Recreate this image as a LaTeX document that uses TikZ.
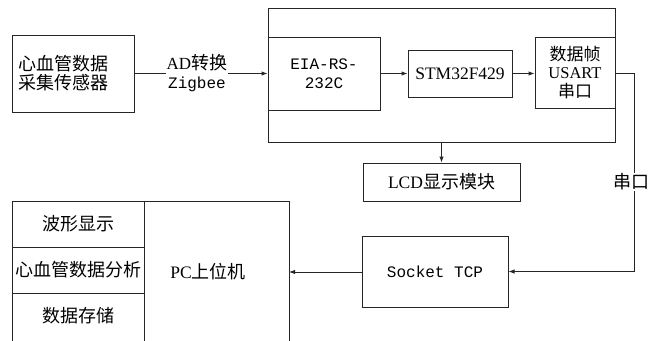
\documentclass[tikz,border=0pt]{standalone}
\usepackage{fontspec}
\setmainfont{Liberation Serif}
\newfontfamily\cjk{Noto Sans CJK SC}
\newfontfamily\mono{Liberation Mono}
\usetikzlibrary{arrows.meta}
\begin{document}
\begin{tikzpicture}[x=1pt,y=-1pt,
  box/.style={draw=black!85,line width=1pt,rectangle,inner sep=0pt,align=center},
  arr/.style={draw=black!85,line width=1pt,-{Latex[length=6pt,width=4.5pt]}},
  ln/.style={draw=black!85,line width=1pt},
  cn/.style={font=\cjk\fontsize{18}{19}\selectfont},
  mn/.style={font=\mono\fontsize{16}{18.5}\selectfont},
  sr/.style={font=\fontsize{17.5}{18}\selectfont}]
\useasboundingbox (0,0) rectangle (653,340);
% boxes
\node[box,cn,minimum width=122pt,minimum height=77pt,text width=110pt,align=left] (sensor) at (73,73.5) {心血管数据\\采集传感器};
\node[box,minimum width=347pt,minimum height=134pt] (outer) at (441.5,75) {};
\node[box,mn,minimum width=112pt,minimum height=73pt] (eia) at (324,73.5) {EIA-RS-\\232C};
\node[box,sr,minimum width=104pt,minimum height=47pt] (stm) at (460,73.5) {STM32F429};
\node[box,minimum width=80pt,minimum height=71pt,font=\fontsize{16.5}{18.5}\selectfont] (frame) at (575,72.5) {{\cjk\fontsize{17}{18.5}\selectfont 数据帧}\\USART\\{\cjk\fontsize{17}{18.5}\selectfont 串口}};
\node[box,minimum width=157pt,minimum height=38pt,font=\fontsize{17.5}{18}\selectfont] (lcd) at (441.5,182) {LCD{\cjk\fontsize{18}{18}\selectfont 显示模块}};
\node[box,mn,minimum width=146pt,minimum height=71pt] (socket) at (435,271.5) {Socket TCP};
% PC box (bottom cut off)
\coordinate (pctl) at (12,201);
\coordinate (pctr) at (289,201);
\coordinate (pcbl) at (12,342);
\coordinate (pcbr) at (289,342);
\draw[ln] (pcbl) -- (pctl) -- (pctr) -- (pcbr);
\coordinate (divt) at (144,201);
\coordinate (divb) at (144,342);
\draw[ln] (divt) -- (divb);
\coordinate (r1l) at (12,247); \coordinate (r1r) at (144,247);
\coordinate (r2l) at (12,293); \coordinate (r2r) at (144,293);
\draw[ln] (r1l) -- (r1r);
\draw[ln] (r2l) -- (r2r);
\node[cn] (wave) at (78,224) {波形显示};
\node[cn] (ana) at (78,270) {心血管数据分析};
\node[cn] (store) at (78,316) {数据存储};
\node[font=\fontsize{17.5}{18}\selectfont,inner sep=0pt] (pc) at (208,272) {PC{\cjk\fontsize{18}{18}\selectfont 上位机}};
\coordinate (pcin) at (289,272);
% connectors
\draw[arr] (sensor.east) -- (eia.west);
\node[fill=white,inner sep=1pt,align=center,font=\fontsize{17}{19}\selectfont] (ad) at (197,73) {AD{\cjk\fontsize{18}{19}\selectfont 转换}\\{\mono\fontsize{16}{19}\selectfont Zigbee}};
\draw[arr] (eia.east |- stm.west) -- (stm.west);
\draw[arr] (stm.east) -- (frame.west |- stm.east);
\draw[arr] (outer.south) -- (lcd.north);
\coordinate (c1) at (634,73);
\coordinate (c2) at (634,271.5);
\draw[arr] (frame.east |- c1) -- (c1) -- (c2) -- (socket.east);
\node[cn,fill=white,inner sep=1pt] (ck) at (631,182) {串口};
\draw[arr] (socket.west |- pcin) -- (pcin);
\end{tikzpicture}
\end{document}
